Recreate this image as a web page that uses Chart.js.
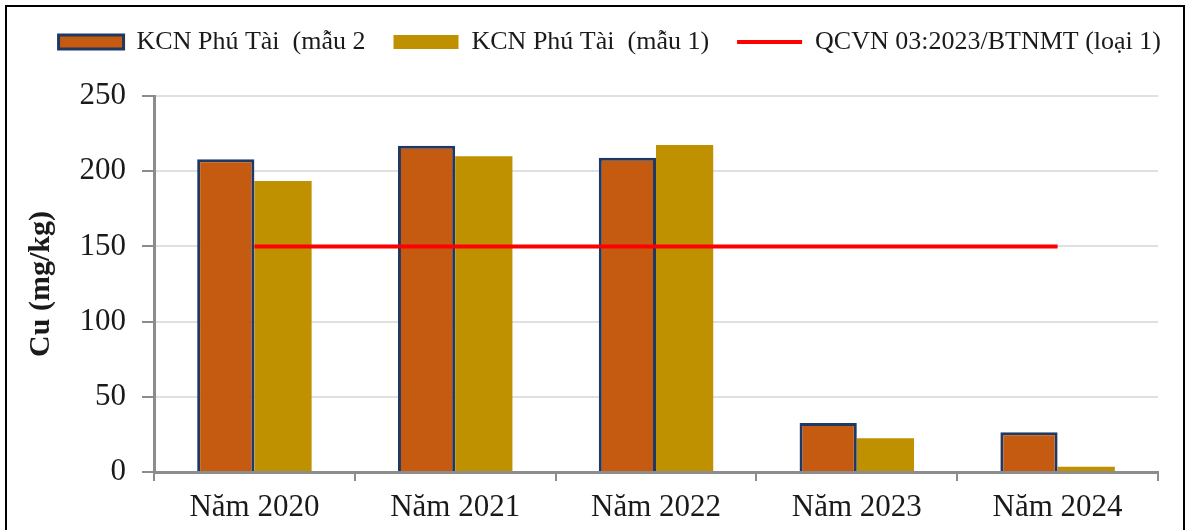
<!DOCTYPE html>
<html>
<head>
<meta charset="utf-8">
<script src="https://cdn.jsdelivr.net/npm/chart.js@4.4.1/dist/chart.umd.min.js"></script>
<style>
  html, body { margin: 0; padding: 0; background: #ffffff; }
  #wrap { position: relative; width: 1189px; height: 530px; overflow: hidden; }
  #frame {
    position: absolute; left: 5px; top: 5px; width: 1176px; height: 600px;
    border: 2px solid #000000; pointer-events: none;
  }
  canvas { position: absolute; left: 0; top: 0; }
</style>
</head>
<body>
<div id="wrap">
  <canvas id="cuChart" width="1189" height="530"></canvas>
  <div id="frame"></div>
</div>
<script>
const categories = ["Năm 2020", "Năm 2021", "Năm 2022", "Năm 2023", "Năm 2024"];
const sample2Values = [208, 217, 209, 32.5, 26.5];
const sample1Values = [193.5, 210, 217.5, 22.5, 3.5];
const limitValues = [150, 150, 150, 150, 150];
const yTicks = [0, 50, 100, 150, 200, 250];

const COLORS = {
  orange: "#C55A11",
  navy: "#1F3864",
  gold: "#BF9000",
  red: "#FF0000",
  axis: "#8C8C8C",
  grid: "#E0E0E0",
  text: "#1a1a1a"
};

const FONT = "'Liberation Serif', 'Times New Roman', serif";

function makeSpacer(position, size) {
  return {
    position: position,
    weight: 500,
    fullSize: position === "top",
    options: {},
    top: 0, left: 0, right: 0, bottom: 0, width: 0, height: 0,
    isHorizontal: function () { return position === "top"; },
    update: function (maxWidth, maxHeight) {
      if (position === "top") {
        this.width = maxWidth;
        this.height = size;
      } else {
        this.width = size;
        this.height = maxHeight;
      }
    },
    draw: function () {}
  };
}

// empty room under the legend and right of the plot
const spacers = {
  id: "spacers",
  beforeInit: function (chart) {
    Chart.layouts.addBox(chart, makeSpacer("top", 31));
    Chart.layouts.addBox(chart, makeSpacer("right", 31));
  }
};

new Chart(document.getElementById("cuChart"), {
  data: {
    labels: categories,
    datasets: [{
      type: "bar",
      label: "KCN Phú Tài  (mẫu 2",
      data: sample2Values,
      backgroundColor: COLORS.orange,
      borderColor: COLORS.navy,
      borderWidth: 3,
      pointStyle: "rect",
      order: 1
    }, {
      type: "bar",
      label: "KCN Phú Tài  (mẫu 1)",
      data: sample1Values,
      backgroundColor: COLORS.gold,
      borderColor: COLORS.gold,
      borderWidth: 0,
      pointStyle: "rect",
      order: 2
    }, {
      type: "line",
      label: "QCVN 03:2023/BTNMT (loại 1)",
      data: limitValues,
      borderColor: COLORS.red,
      backgroundColor: COLORS.red,
      borderWidth: 4,
      pointRadius: 0,
      pointStyle: "line",
      order: 0
    }]
  },
  plugins: [spacers],
  options: {
    responsive: false,
    animation: false,
    events: [],
    datasets: {
      bar: {
        barPercentage: 1,
        categoryPercentage: 0.57
      }
    },
    layout: {
      padding: { left: 0, right: 0, top: 1, bottom: 0 }
    },
    plugins: {
      legend: {
        position: "top",
        align: "end",
        labels: {
          usePointStyle: true,
          pointStyleWidth: 65,
          boxHeight: 14,
          padding: 28,
          color: COLORS.text,
          font: { family: FONT, size: 26 },
          sort: function (a, b) {
            return a.datasetIndex - b.datasetIndex;
          }
        }
      },
      tooltip: { enabled: false }
    },
    scales: {
      x: {
        offset: true,
        grid: {
          offset: true,
          drawOnChartArea: true,
          color: function (context) {
            return context.index === categories.length ? COLORS.grid : "rgba(0,0,0,0)";
          },
          tickColor: COLORS.axis,
          tickLength: 9,
          lineWidth: 2
        },
        border: { color: COLORS.axis, width: 3 },
        ticks: {
          color: COLORS.text,
          padding: 8,
          font: { family: FONT, size: 31 }
        },
        afterFit: function (scale) {
          scale.height = 58;
        }
      },
      y: {
        min: 0,
        max: 250,
        afterBuildTicks: function (scale) {
          scale.ticks = yTicks.map(function (v) {
            return { value: v };
          });
        },
        grid: {
          color: COLORS.grid,
          tickColor: COLORS.axis,
          tickLength: 12,
          lineWidth: 2
        },
        border: { color: COLORS.axis, width: 3 },
        ticks: {
          color: COLORS.text,
          padding: 16,
          font: { family: FONT, size: 31 }
        },
        title: {
          display: true,
          text: "Cu (mg/kg)",
          color: COLORS.text,
          padding: { top: 23, bottom: 0 },
          font: { family: FONT, size: 30, weight: "bold" }
        },
        afterFit: function (scale) {
          scale.width = 154;
        }
      }
    }
  }
});
</script>
</body>
</html>
